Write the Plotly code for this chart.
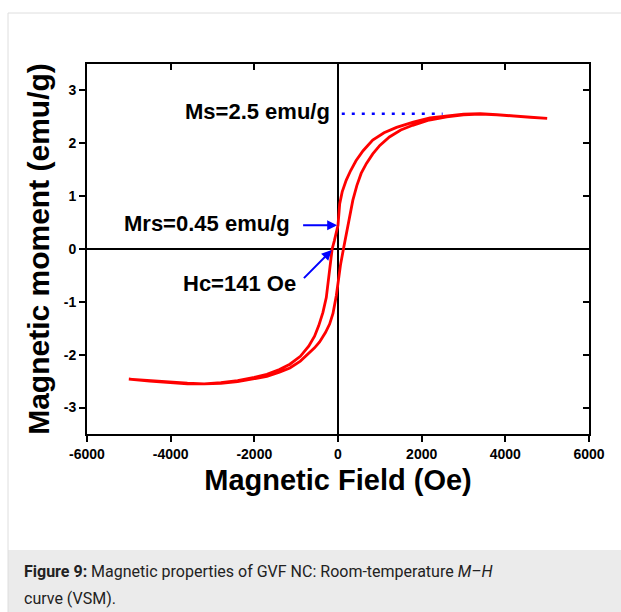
import plotly.graph_objects as go

# Descending branch (+5000 -> -5000 Oe)
h_desc = [5000, 4600, 4200, 3800, 3400, 3000, 2600, 2200, 1800, 1400, 1100, 830, 600, 430, 300, 195, 100, 40, 0,
          -40, -90, -140, -200, -280, -360, -460, -560, -700, -900, -1150, -1400, -1700, -2000, -2400, -2800,
          -3200, -3600, -4000, -4500, -5000]
m_desc = [2.47, 2.50, 2.52, 2.54, 2.56, 2.55, 2.52, 2.48, 2.40, 2.30, 2.20, 2.06, 1.86, 1.67, 1.48, 1.30, 1.08, 0.85, 0.45,
          0.30, 0.15, 0.0, -0.45, -0.92, -1.20, -1.45, -1.65, -1.84, -2.03, -2.18, -2.28, -2.37, -2.43, -2.49, -2.53,
          -2.55, -2.55, -2.53, -2.50, -2.46]
# Ascending branch (-5000 -> +5000 Oe)
h_asc = [-5000, -4500, -4000, -3600, -3200, -2800, -2400, -2000, -1700, -1400, -1150, -900, -700, -560, -440, -300,
         -200, -120, -40, 0, 60, 130, 180, 235, 300, 354, 450, 553, 680, 831, 1000, 1229, 1500, 1785, 2183, 2600,
         3000, 3400, 3800, 4200, 4600, 5000]
m_asc = [-2.46, -2.49, -2.52, -2.54, -2.55, -2.54, -2.51, -2.46, -2.41, -2.33, -2.25, -2.12, -1.98, -1.87, -1.76, -1.58,
         -1.42, -1.22, -0.88, -0.60, -0.30, 0.0, 0.20, 0.42, 0.68, 0.92, 1.20, 1.43, 1.62, 1.80, 1.96, 2.12, 2.25, 2.34,
         2.44, 2.50, 2.54, 2.55, 2.54, 2.51, 2.49, 2.47]

ms_line_h = [90, 2500]
ms_line_m = [2.56, 2.56]

x_ticks = [-6000, -4000, -2000, 0, 2000, 4000, 6000]
x_tick_text = ["-6000", "-4000", "-2000", "0", "2000", "4000", "6000"]
y_ticks = [-3, -2, -1, 0, 1, 2, 3]
y_tick_text = ["-3", "-2", "-1", "0", "1", "2", "3"]

W, H = 621, 612
L, R, T, B = 87, 32, 64, 178
pw, ph = W - L - R, H - T - B


def px(xp):
    return (xp - L) / pw


def py(yp):
    return (H - B - yp) / ph


FONT = "Liberation Sans, Arial, sans-serif"

fig = go.Figure()
fig.add_trace(go.Scatter(x=h_desc + h_asc, y=m_desc + m_asc, mode="lines",
                         line=dict(color="#ff0000", width=2.8),
                         showlegend=False, hoverinfo="skip"))
fig.add_trace(go.Scatter(x=ms_line_h, y=ms_line_m, mode="lines",
                         line=dict(color="#0000ff", width=2.5, dash="3px,7px"),
                         showlegend=False, hoverinfo="skip"))
fig.add_trace(go.Scatter(x=[None], y=[None], xaxis="x2", yaxis="y2", showlegend=False, hoverinfo="skip"))

axis_common = dict(showline=True, linecolor="black", linewidth=2, showgrid=False,
                   tickcolor="black", tickwidth=2, ticklen=6)
tick_font = dict(size=14, family=FONT, weight="bold", color="black")

fig.update_layout(
    width=W, height=H, margin=dict(l=L, r=R, t=T, b=B),
    paper_bgcolor="white", plot_bgcolor="white",
    font=dict(family=FONT, color="black"),
    xaxis=dict(range=[-6000, 6000], tickvals=x_ticks, ticktext=x_tick_text, ticks="outside", mirror=False,
               zeroline=True, zerolinecolor="black", zerolinewidth=2, tickfont=tick_font,
               title=dict(text="<b>Magnetic Field (Oe)</b>", font=dict(size=29, family=FONT), standoff=9),
               **axis_common),
    yaxis=dict(range=[-3.5, 3.5], tickvals=y_ticks, ticktext=y_tick_text, ticks="outside", mirror=False,
               zeroline=True, zerolinecolor="black", zerolinewidth=2, tickfont=tick_font,
               title=dict(text="<b>Magnetic moment (emu/g)</b>", font=dict(size=30, family=FONT), standoff=5),
               **axis_common),
    xaxis2=dict(range=[-6000, 6000], tickvals=x_ticks, ticks="inside", side="top", overlaying="x",
                anchor="y", showticklabels=False, zeroline=False, **axis_common),
    yaxis2=dict(range=[-3.5, 3.5], tickvals=y_ticks, ticks="inside", side="right", overlaying="y",
                anchor="x", showticklabels=False, zeroline=False, **axis_common),
)

# card border and caption background
fig.add_shape(type="rect", xref="paper", yref="paper", x0=px(8), x1=px(640), y0=py(550), y1=py(640),
              fillcolor="#ebebeb", line=dict(width=0), layer="below")
fig.add_shape(type="line", xref="paper", yref="paper", x0=px(8), x1=px(8), y0=py(13), y1=py(640),
              line=dict(color="#dedede", width=1))
fig.add_shape(type="line", xref="paper", yref="paper", x0=px(8), x1=px(640), y0=py(13), y1=py(13),
              line=dict(color="#dedede", width=1))

ann_font = dict(size=22, family=FONT, color="black")
fig.add_annotation(x=-155, y=2.6, xref="x", yref="y", text="<b>Ms=2.5 emu/g</b>", showarrow=False,
                   xanchor="right", yanchor="middle", font=ann_font)
fig.add_annotation(x=-1110, y=0.49, xref="x", yref="y", text="<b>Mrs=0.45 emu/g</b>", showarrow=False,
                   xanchor="right", yanchor="middle", font=ann_font)
fig.add_annotation(x=-966, y=-0.66, xref="x", yref="y", text="<b>Hc=141 Oe</b>", showarrow=False,
                   xanchor="right", yanchor="middle", font=ann_font)
# arrows
fig.add_annotation(x=-20, y=0.45, ax=-870, ay=0.45, xref="x", yref="y", axref="x", ayref="y", text="",
                   showarrow=True, arrowhead=2, arrowsize=1, arrowwidth=2, arrowcolor="#0000ff")
fig.add_annotation(x=-150, y=-0.02, ax=-850, ay=-0.58, xref="x", yref="y", axref="x", ayref="y", text="",
                   showarrow=True, arrowhead=2, arrowsize=1, arrowwidth=2, arrowcolor="#0000ff")

cap_font = dict(size=16, family="Roboto, sans-serif", color="#222222")
fig.add_annotation(x=px(22), y=py(571), xref="paper", yref="paper", xanchor="left", yanchor="middle",
                   showarrow=False, font=cap_font,
                   text="<b>Figure 9:</b> Magnetic properties of GVF NC: Room-temperature <i>M–H</i>")
fig.add_annotation(x=px(22), y=py(598), xref="paper", yref="paper", xanchor="left", yanchor="middle",
                   showarrow=False, font=cap_font, text="curve (VSM).")

fig.write_html("out.html")
